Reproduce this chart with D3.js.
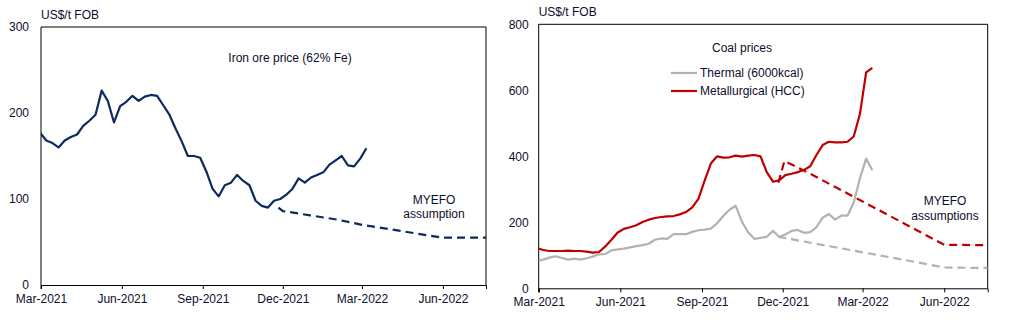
<!DOCTYPE html>
<html>
<head>
<meta charset="utf-8">
<script src="https://cdn.jsdelivr.net/npm/d3@7"></script>
<style>
  body { margin: 0; background: #fff; }
  svg { font-family: "Liberation Sans", Arial, sans-serif; }
  .axis text { font-size: 12px; fill: #0d0d2b; }
  .axis path, .axis line { stroke: #000; }
</style>
</head>
<body>
<div id="chart"></div>
<script>
// weekly observations
const ironStart = '2021-02-28';
const ironOre = [177, 168, 165, 160, 168, 172, 175, 185, 191, 198, 226, 214, 189, 208, 213, 220,
  214, 219, 221, 220, 209, 198, 182, 167, 150, 150, 148, 132, 112, 103, 116, 119, 128, 121, 116,
  98, 92, 90, 98, 100, 105, 112, 124, 119, 125, 128, 131, 140, 145, 150, 139, 138, 147, 159];

const coalStart = '2021-02-27';
const metallurgical = [122, 116, 113, 113, 113, 114, 113, 113, 111, 108, 110, 127, 147, 169, 180,
  185, 191, 201, 208, 213, 216, 218, 219, 224, 231, 245, 271, 326, 378, 400, 396, 397, 402, 399,
  402, 404, 400, 352, 323, 327, 343, 347, 352, 359, 370, 404, 434, 444, 442, 442, 444, 460, 528, 654, 668];
const thermal = [83, 87, 93, 97, 92, 87, 90, 87, 91, 96, 103, 104, 115, 118, 120, 124, 128, 131, 135,
  147, 151, 150, 164, 164, 164, 171, 176, 178, 181, 197, 219, 238, 250, 202, 170, 150, 153, 156, 174,
  156, 163, 174, 177, 168, 170, 185, 214, 225, 208, 220, 220, 260, 333, 393, 358];

// MYEFO assumptions
const ironDates = ['2021-11-26', '2021-12-01', '2022-01-01', '2022-02-01', '2022-03-01', '2022-04-01', '2022-05-01', '2022-06-01', '2022-07-01', '2022-07-20'];
const ironAssumption = [90, 86, 81, 76, 70, 65, 60, 55, 55, 55];
const coalDates = ['2021-11-26', '2021-12-03', '2022-01-01', '2022-02-01', '2022-03-01', '2022-04-01', '2022-05-01', '2022-06-01', '2022-07-01', '2022-07-20'];
const metAssumption = [320, 386, 347, 303, 263, 219, 176, 132, 131, 131];
const thermalAssumption = [156, 153, 138, 123, 109, 94, 79, 63, 62, 62];

const tickDates = ['2021-03-01', '2021-06-01', '2021-09-01', '2021-12-01', '2022-03-01', '2022-06-01'];
const domainDates = ['2021-03-01', '2022-07-20'];

const parse = d3.timeParse('%Y-%m-%d');
const fmt = d3.timeFormat('%b-%Y');
const weekly = (start, vals) => vals.map((v, i) => [d3.timeDay.offset(parse(start), 7 * i), v]);
const dated = (dates, vals) => vals.map((v, i) => [parse(dates[i]), v]);

const svg = d3.select('#chart').append('svg')
  .attr('width', 1028).attr('height', 327);

function panel(cfg) {
  const {x0, x1, y0, y1, ymax, ystep, id} = cfg;
  const x = d3.scaleTime().domain(domainDates.map(parse)).range([x0, x1]);
  const y = d3.scaleLinear().domain([0, ymax]).range([y0, y1]);
  const g = svg.append('g');

  g.append('clipPath').attr('id', id)
    .append('rect').attr('x', x0).attr('y', y1).attr('width', x1 - x0).attr('height', y0 - y1);

  // frame top / right
  g.append('path')
    .attr('d', `M${x0},${y1}H${x1}V${y0}`)
    .attr('fill', 'none').attr('stroke', '#000').attr('stroke-width', 1);

  g.append('g').attr('class', 'axis')
    .attr('transform', `translate(0,${y0})`)
    .call(d3.axisBottom(x).tickValues(tickDates.map(parse)).tickFormat(fmt)
      .tickSizeOuter(0).tickSize(4).tickPadding(5));

  g.append('g').attr('class', 'axis')
    .attr('transform', `translate(${x0},0)`)
    .call(d3.axisLeft(y).tickValues(d3.range(0, ymax + 1, ystep)).tickSize(0)
      .tickPadding(cfg.pad).tickFormat(d3.format('d')))
    .call(a => a.select('.domain').attr('d', `M0,${y1}V${y0 + 4}`));

  g.append('text').attr('x', x0).attr('y', y1 - 8)
    .attr('font-size', 12).attr('fill', '#0d0d2b').text('US$/t FOB');

  const line = d3.line().x(d => x(d[0])).y(d => y(d[1]));
  const plot = g.append('g').attr('clip-path', `url(#${id})`);
  const draw = (data, color, dash) => plot.append('path')
    .datum(data)
    .attr('fill', 'none')
    .attr('stroke', color)
    .attr('stroke-width', 2.2)
    .attr('stroke-linejoin', 'round')
    .attr('stroke-dasharray', dash || null)
    .attr('d', line);
  return {g, x, y, draw};
}

// Iron ore
const left = panel({x0: 41, x1: 486, y0: 285, y1: 27, ymax: 300, ystep: 100, pad: 12, id: 'clipL'});
left.draw(dated(ironDates, ironAssumption), '#0e2a5c', '8,5');
left.draw(weekly(ironStart, ironOre), '#0e2a5c');
left.g.append('text').attr('x', 290).attr('y', 62).attr('text-anchor', 'middle')
  .attr('font-size', 12).attr('fill', '#0d0d2b').text('Iron ore price (62% Fe)');
left.g.append('text').attr('x', 434).attr('y', 204).attr('text-anchor', 'middle')
  .attr('font-size', 12).attr('fill', '#0d0d2b')
  .call(t => {
    t.append('tspan').attr('x', 434).text('MYEFO');
    t.append('tspan').attr('x', 434).attr('dy', 14).text('assumption');
  });

// Coal
const right = panel({x0: 538.7, x1: 987.7, y0: 288.3, y1: 24.3, ymax: 800, ystep: 200, pad: 10, id: 'clipR'});
right.draw(dated(coalDates, thermalAssumption), '#b2b2b2', '8,5');
right.draw(dated(coalDates, metAssumption), '#c00000', '8,5');
right.draw(weekly(coalStart, thermal), '#b2b2b2');
right.draw(weekly(coalStart, metallurgical), '#c00000');

right.g.append('text').attr('x', 742).attr('y', 52).attr('text-anchor', 'middle')
  .attr('font-size', 12).attr('fill', '#0d0d2b').text('Coal prices');
const legend = [['Thermal (6000kcal)', '#b2b2b2'], ['Metallurgical (HCC)', '#c00000']];
legend.forEach(([label, color], i) => {
  const ly = 73 + i * 18;
  right.g.append('line').attr('x1', 671).attr('x2', 697).attr('y1', ly).attr('y2', ly)
    .attr('stroke', color).attr('stroke-width', 2.2);
  right.g.append('text').attr('x', 700).attr('y', ly + 4)
    .attr('font-size', 12).attr('fill', '#0d0d2b').text(label);
});
right.g.append('text').attr('x', 945).attr('y', 205).attr('text-anchor', 'middle')
  .attr('font-size', 12).attr('fill', '#0d0d2b')
  .call(t => {
    t.append('tspan').attr('x', 945).text('MYEFO');
    t.append('tspan').attr('x', 945).attr('dy', 15).text('assumptions');
  });
</script>
</body>
</html>
